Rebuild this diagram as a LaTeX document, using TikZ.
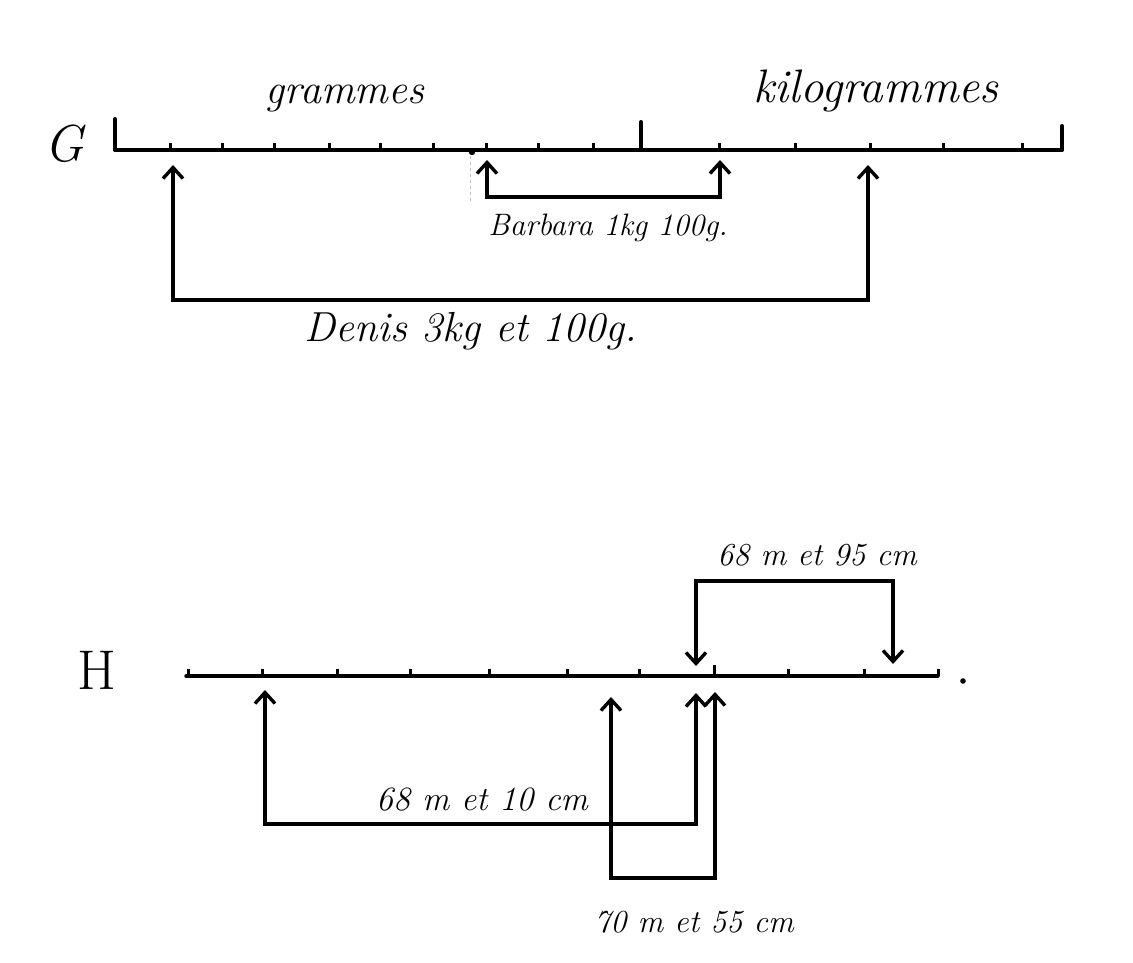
\documentclass[tikz,border=0pt]{standalone}
\usepackage{fontspec}
\usetikzlibrary{arrows.meta}
\newcommand{\fs}[1]{\fontsize{#1}{#1}\selectfont\itshape}
\newcommand{\fsu}[1]{\fontsize{#1}{#1}\selectfont}
\tikzset{
  ruler/.style={line width=3.4pt, line cap=round},
  tickmark/.style={line width=3pt},
  bigtick/.style={line width=4pt, line cap=round},
  barb/.tip={Straight Barb[length=11pt,width=20pt,line width=3.4pt]},
  bracket/.style={line width=3.2pt, line join=miter, barb-barb},
  lbl/.style={inner sep=0pt, anchor=base},
}
\begin{document}
\begin{tikzpicture}[x=1pt,y=-1pt]
\fill[white] (0,0) rectangle (1133,963);
\useasboundingbox (0,0) rectangle (1133,963);

% ---------- G ruler ----------
\node[lbl, font=\fs{52}] (G) at (64,162) {G};
\coordinate (g0) at (115,150);
\coordinate (g1) at (1062,150);
\draw[ruler] (g0) -- (g1);
\draw[bigtick] (g0) -- ++(0,-31);
\draw[bigtick] (641,150) -- (641,122);
\draw[bigtick] (g1) -- ++(0,-24);
\foreach \x in {170,222,274,329,380,433,486,538,593,719,795,870,943,1022}
  \draw[tickmark] (\x,150) -- (\x,143);
\fill (472,152) circle (3.2pt);
\draw[black!25, dashed, line width=1pt] (470,156) -- (470,203);

\node[lbl, font=\fs{42}] (grammes) at (345,104) {grammes};
\node[lbl, font=\fs{47}] (kilo) at (876,103) {kilogrammes};

% Barbara
\coordinate (bA) at (487,160);
\coordinate (bB) at (720,160);
\coordinate (bAb) at (487,197);
\coordinate (bBb) at (720,197);
\draw[bracket] (bA) -- (bAb) -- (bBb) -- (bB);
\node[lbl, font=\fs{31}] (barbara) at (608,235) {Barbara 1kg 100g.};

% Denis
\coordinate (dA) at (173,165);
\coordinate (dB) at (868,165);
\coordinate (dAb) at (173,300);
\coordinate (dBb) at (868,300);
\draw[bracket] (dA) -- (dAb) -- (dBb) -- (dB);
\node[lbl, font=\fs{42}] (denis) at (471,341) {Denis 3kg et 100g.};

% ---------- H ruler ----------
\node[lbl, font=\fsu{56}] (H) at (97,689) {H};
\coordinate (h0) at (186,676);
\coordinate (h1) at (938,676);
\draw[ruler] (h0) -- (h1);
\foreach \x in {188,262,337,410,489,567,639,788,864,938}
  \draw[tickmark] (\x,676) -- (\x,669);
\draw[tickmark] (714,676) -- (714,665);
\fill (963,681) circle (2.8pt);

% 68 m et 95 cm (above)
\coordinate (eA) at (696,666);
\coordinate (eB) at (893,664);
\coordinate (eAt) at (696,581);
\coordinate (eBt) at (893,581);
\draw[bracket] (eA) -- (eAt) -- (eBt) -- (eB);
\node[lbl, font=\fs{32}] (e95) at (817,565) {68 m et 95 cm};

% 68 m et 10 cm
\coordinate (cA) at (265,690);
\coordinate (cB) at (696,693);
\coordinate (cAb) at (265,824);
\coordinate (cBb) at (696,824);
\draw[bracket] (cA) -- (cAb) -- (cBb) -- (cB);
\node[lbl, font=\fs{34}] (c10) at (482,810) {68 m et 10 cm};

% 70 m et 55 cm
\coordinate (fA) at (611,697);
\coordinate (fB) at (715,692);
\coordinate (fAb) at (611,878);
\coordinate (fBb) at (715,878);
\draw[bracket] (fA) -- (fAb) -- (fBb) -- (fB);
\node[lbl, font=\fs{32}] (f55) at (694,932) {70 m et 55 cm};
\end{tikzpicture}
\end{document}
